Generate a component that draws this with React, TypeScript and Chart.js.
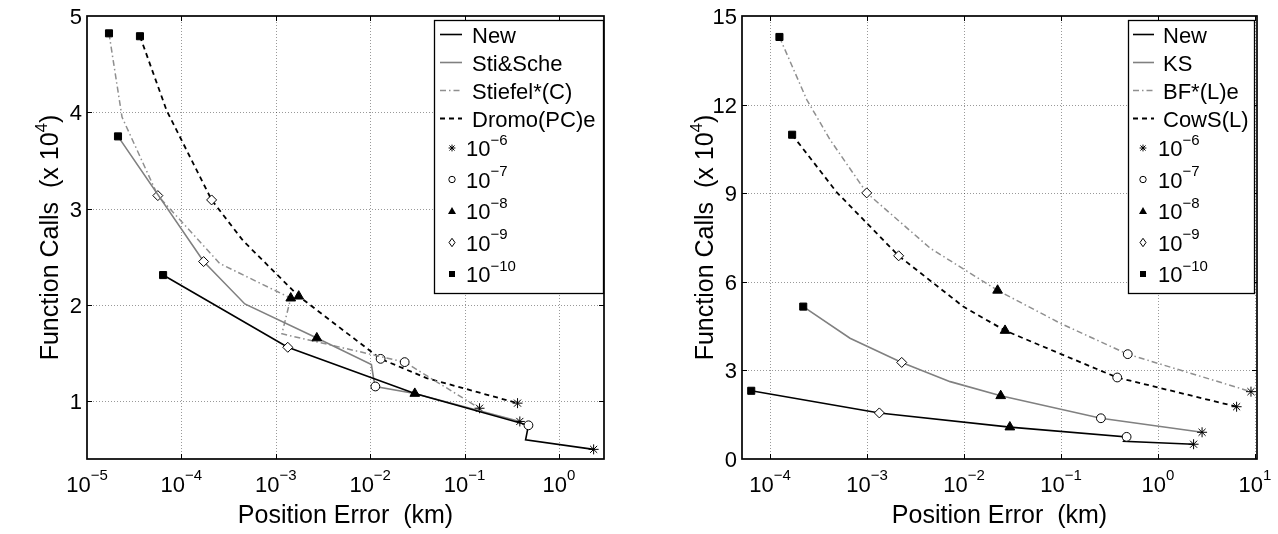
import React, { useEffect, useRef } from 'react';
import { Chart, registerables } from 'chart.js';

Chart.register(...registerables);

const FONT = '"Liberation Sans", Arial, Helvetica, sans-serif';

// ---------------- Left panel data ----------------
const leftXTickExps = [-5, -4, -3, -2, -1, 0];
const leftYTicks = [1, 2, 3, 4, 5];

const newErr = [6.4e-5, 1.34e-3, 0.0297, 0.475, 0.443, 2.33];
const newCalls = [2.31, 1.56, 1.08, 0.75, 0.6, 0.5];
const newTol = [-10, -9, -8, -7, null, -6];

const stiScheErr = [2.13e-5, 1.72e-4, 4.7e-4, 2.72e-3, 0.0103, 0.0109, 0.01135, 0.0296, 0.385];
const stiScheCalls = [3.75, 2.45, 2.01, 1.656, 1.38, 1.23, 1.153, 1.08, 0.79];
const stiScheTol = [-10, -9, null, -8, null, null, -7, null, -6];

const stiefelErr = [1.71e-5, 2.35e-5, 5.63e-5, 2.55e-4, 1.44e-3, 1.16e-3, 0.0232, 0.144];
const stiefelCalls = [4.82, 3.95, 3.135, 2.43, 2.07, 1.7, 1.406, 0.927];
const stiefelTol = [-10, null, -9, null, -8, null, -7, -6];

const dromoErr = [3.64e-5, 6.97e-5, 2.09e-4, 4.5e-4, 1.75e-3, 0.0129, 0.0396, 0.364];
const dromoCalls = [4.79, 4.02, 3.09, 2.667, 2.09, 1.44, 1.24, 0.98];
const dromoTol = [-10, null, -9, null, -8, -7, null, -6];

// ---------------- Right panel data ----------------
const rightXTickExps = [-4, -3, -2, -1, 0, 1];
const rightYTicks = [0, 3, 6, 9, 12, 15];

const ksErr = [2.2e-4, 6.68e-4, 2.28e-3, 7.2e-3, 0.0239, 0.258, 2.85];
const ksCalls = [5.16, 4.09, 3.27, 2.62, 2.14, 1.38, 0.905];
const ksTol = [-10, null, -9, null, -8, -7, -6];

const bfErr = [1.25e-4, 2.39e-4, 4.16e-4, 9.93e-4, 4.47e-3, 0.0222, 0.0977, 0.488, 9.1];
const bfCalls = [14.29, 12.17, 10.81, 9.01, 7.14, 5.71, 4.6, 3.55, 2.28];
const bfTol = [-10, null, null, -9, null, -8, null, -7, -6];

const cowsErr = [1.69e-4, 4.88e-4, 2.12e-3, 9.84e-3, 0.0265, 0.1146, 0.38, 6.47];
const cowsCalls = [10.98, 9.03, 6.88, 5.16, 4.35, 3.47, 2.76, 1.77];
const cowsTol = [-10, null, -9, null, -8, null, -7, -6];

const legendTolExps = [-6, -7, -8, -9, -10];

const BLACK = '#000000';
const GRAY = '#808080';
const LIGHTGRAY = '#8f8f8f';
const DASH = [5, 4];
const DASHDOT = [6, 3, 1.5, 3];

type Series = {
  label: string;
  err: number[];
  calls: number[];
  tol: (number | null)[];
  color: string;
  width: number;
  dash: number[];
};

const leftSeries: Series[] = [
  { label: 'New', err: newErr, calls: newCalls, tol: newTol, color: BLACK, width: 1.6, dash: [] },
  { label: 'Sti&Sche', err: stiScheErr, calls: stiScheCalls, tol: stiScheTol, color: GRAY, width: 1.6, dash: [] },
  { label: 'Stiefel*(C)', err: stiefelErr, calls: stiefelCalls, tol: stiefelTol, color: LIGHTGRAY, width: 1.5, dash: DASHDOT },
  { label: 'Dromo(PC)e', err: dromoErr, calls: dromoCalls, tol: dromoTol, color: BLACK, width: 1.8, dash: DASH },
];

const rightSeries: Series[] = [
  { label: 'New', err: newErr, calls: newCalls, tol: newTol, color: BLACK, width: 1.6, dash: [] },
  { label: 'KS', err: ksErr, calls: ksCalls, tol: ksTol, color: GRAY, width: 1.6, dash: [] },
  { label: 'BF*(L)e', err: bfErr, calls: bfCalls, tol: bfTol, color: LIGHTGRAY, width: 1.5, dash: DASHDOT },
  { label: 'CowS(L)', err: cowsErr, calls: cowsCalls, tol: cowsTol, color: BLACK, width: 1.8, dash: DASH },
];

function styleFor(t: number | null): any {
  if (t === -6) return 'star';
  if (t === -7) return 'circle';
  if (t === -8) return 'triangle';
  if (t === -9) return 'rectRot';
  if (t === -10) return 'rect';
  return 'circle';
}
function radiusFor(t: number | null): number {
  if (t === -6) return 5;
  if (t === -7) return 4.4;
  if (t === -8) return 5.6;
  if (t === -9) return 5;
  if (t === -10) return 5;
  return 0;
}

function makeDataset(s: Series) {
  return {
    label: s.label,
    data: s.err.map((x, i) => ({ x, y: s.calls[i] })),
    borderColor: s.color,
    borderWidth: s.width,
    borderDash: s.dash,
    fill: false,
    tension: 0,
    pointStyle: s.tol.map(styleFor),
    pointRadius: s.tol.map(radiusFor),
    pointHoverRadius: s.tol.map(radiusFor),
    pointBackgroundColor: s.tol.map((t) => (t === -7 || t === -9 ? '#ffffff' : '#000000')),
    pointBorderColor: '#000000',
    pointBorderWidth: 1,
    clip: false,
  };
}

function drawPow(ctx: CanvasRenderingContext2D, base: string, exp: string, x: number, baseline: number, mainSize: number, supSize: number, rise: number, align: 'center' | 'left') {
  ctx.font = `${mainSize}px ${FONT}`;
  const w1 = ctx.measureText(base).width;
  ctx.font = `${supSize}px ${FONT}`;
  const w2 = ctx.measureText(exp).width;
  const x0 = align === 'center' ? x - (w1 + w2) / 2 : x;
  ctx.textAlign = 'left';
  ctx.textBaseline = 'alphabetic';
  ctx.font = `${mainSize}px ${FONT}`;
  ctx.fillText(base, x0, baseline);
  ctx.font = `${supSize}px ${FONT}`;
  ctx.fillText(exp, x0 + w1, baseline - rise);
}

function drawLegendMarker(ctx: CanvasRenderingContext2D, t: number, x: number, y: number) {
  ctx.save();
  ctx.setLineDash([]);
  ctx.lineWidth = 1;
  ctx.strokeStyle = '#000';
  ctx.fillStyle = '#000';
  ctx.beginPath();
  if (t === -6) {
    const r = 3.4;
    ctx.moveTo(x - r, y); ctx.lineTo(x + r, y);
    ctx.moveTo(x, y - r); ctx.lineTo(x, y + r);
    const d = r * 0.75;
    ctx.moveTo(x - d, y - d); ctx.lineTo(x + d, y + d);
    ctx.moveTo(x - d, y + d); ctx.lineTo(x + d, y - d);
    ctx.stroke();
  } else if (t === -7) {
    ctx.arc(x, y, 3.2, 0, Math.PI * 2);
    ctx.fillStyle = '#fff';
    ctx.fill();
    ctx.stroke();
  } else if (t === -8) {
    ctx.moveTo(x, y - 4);
    ctx.lineTo(x + 4, y + 3);
    ctx.lineTo(x - 4, y + 3);
    ctx.closePath();
    ctx.fill();
  } else if (t === -9) {
    ctx.moveTo(x, y - 4.2);
    ctx.lineTo(x + 3, y);
    ctx.lineTo(x, y + 4.2);
    ctx.lineTo(x - 3, y);
    ctx.closePath();
    ctx.fillStyle = '#fff';
    ctx.fill();
    ctx.stroke();
  } else {
    ctx.rect(x - 3, y - 3, 6, 6);
    ctx.fill();
  }
  ctx.restore();
}

type PanelCfg = {
  xTickExps: number[];
  yTicks: number[];
  series: Series[];
  legend: { left: number; right: number; top: number; bottom: number; lineX0: number; lineX1: number; textX: number; markerX: number; powX: number };
  yTitleX: number;
  xTitleY: number;
};

function panelPlugin(cfg: PanelCfg) {
  return {
    id: 'panelDecor',
    beforeDatasetsDraw(chart: any) {
      const { ctx, chartArea: a, scales } = chart;
      const xs = scales.x;
      const ys = scales.y;
      ctx.save();
      ctx.strokeStyle = 'rgba(0,0,0,0.4)';
      ctx.lineWidth = 1;
      ctx.setLineDash([1, 2]);
      for (const e of cfg.xTickExps) {
        const px = Math.round(xs.getPixelForValue(Math.pow(10, e))) + 0.5;
        if (px <= a.left + 2 || px >= a.right - 1) continue;
        ctx.beginPath();
        ctx.moveTo(px, a.top);
        ctx.lineTo(px, a.bottom);
        ctx.stroke();
      }
      for (const v of cfg.yTicks) {
        const py = Math.round(ys.getPixelForValue(v)) + 0.5;
        if (py <= a.top + 2 || py >= a.bottom - 2) continue;
        ctx.beginPath();
        ctx.moveTo(a.left, py);
        ctx.lineTo(a.right, py);
        ctx.stroke();
      }
      ctx.restore();
    },
    afterDatasetsDraw(chart: any) {
      const { ctx, chartArea: a, scales } = chart;
      const xs = scales.x;
      const ys = scales.y;
      ctx.save();
      ctx.setLineDash([]);
      ctx.strokeStyle = '#000';
      // inward ticks
      ctx.lineWidth = 1;
      const TL = 5;
      for (const e of cfg.xTickExps) {
        const px = Math.round(xs.getPixelForValue(Math.pow(10, e))) + 0.5;
        if (px <= a.left + 2 || px >= a.right - 1) continue;
        ctx.beginPath();
        ctx.moveTo(px, a.bottom); ctx.lineTo(px, a.bottom - TL);
        ctx.moveTo(px, a.top); ctx.lineTo(px, a.top + TL);
        ctx.stroke();
      }
      for (const v of cfg.yTicks) {
        const py = Math.round(ys.getPixelForValue(v)) + 0.5;
        if (py <= a.top + 2 || py >= a.bottom - 2) continue;
        ctx.beginPath();
        ctx.moveTo(a.left, py); ctx.lineTo(a.left + TL, py);
        ctx.moveTo(a.right, py); ctx.lineTo(a.right - TL, py);
        ctx.stroke();
      }
      // axes box
      ctx.lineWidth = 1.7;
      ctx.strokeRect(a.left, a.top, a.right - a.left, a.bottom - a.top);

      // tick labels
      ctx.fillStyle = '#000';
      for (const e of cfg.xTickExps) {
        const px = xs.getPixelForValue(Math.pow(10, e));
        drawPow(ctx, '10', e < 0 ? '\u2212' + Math.abs(e) : String(e), px, a.bottom + 33, 22, 15, 12, 'center');
      }
      ctx.font = `22px ${FONT}`;
      ctx.textAlign = 'right';
      ctx.textBaseline = 'alphabetic';
      for (const v of cfg.yTicks) {
        const py = ys.getPixelForValue(v);
        ctx.fillText(String(v), a.left - 5, py + 8);
      }

      // x title
      ctx.font = `25px ${FONT}`;
      ctx.textAlign = 'center';
      ctx.fillText('Position Error  (km)', (a.left + a.right) / 2, cfg.xTitleY);

      // y title (rotated, with superscript)
      ctx.save();
      const cy = (a.top + a.bottom) / 2;
      ctx.translate(cfg.yTitleX, cy);
      ctx.rotate(-Math.PI / 2);
      const p1 = 'Function Calls  (x 10';
      const p2 = '4';
      const p3 = ')';
      ctx.font = `25px ${FONT}`;
      const w1 = ctx.measureText(p1).width;
      const w3 = ctx.measureText(p3).width;
      ctx.font = `17px ${FONT}`;
      const w2 = ctx.measureText(p2).width;
      const x0 = -(w1 + w2 + w3) / 2;
      ctx.textAlign = 'left';
      ctx.font = `25px ${FONT}`;
      ctx.fillText(p1, x0, 0);
      ctx.font = `17px ${FONT}`;
      ctx.fillText(p2, x0 + w1, -11);
      ctx.font = `25px ${FONT}`;
      ctx.fillText(p3, x0 + w1 + w2, 0);
      ctx.restore();

      // legend
      const L = cfg.legend;
      ctx.fillStyle = '#fff';
      ctx.fillRect(L.left, L.top, L.right - L.left, L.bottom - L.top);
      ctx.lineWidth = 1.3;
      ctx.strokeStyle = '#000';
      ctx.strokeRect(L.left + 0.5, L.top + 0.5, L.right - L.left, L.bottom - L.top);
      const lineRows = [34.5, 62.5, 90.5, 118.5];
      cfg.series.forEach((s, i) => {
        const y = lineRows[i];
        ctx.save();
        ctx.strokeStyle = s.color;
        ctx.lineWidth = s.width;
        ctx.setLineDash(s.dash);
        ctx.beginPath();
        ctx.moveTo(L.lineX0, y);
        ctx.lineTo(L.lineX1, y);
        ctx.stroke();
        ctx.restore();
        ctx.fillStyle = '#000';
        ctx.font = `22px ${FONT}`;
        ctx.textAlign = 'left';
        ctx.textBaseline = 'alphabetic';
        ctx.fillText(s.label, L.textX, y + 8);
      });
      legendTolExps.forEach((t, i) => {
        const y = 148 + 31.5 * i;
        drawLegendMarker(ctx, t, L.markerX, y);
        ctx.fillStyle = '#000';
        drawPow(ctx, '10', '\u2212' + Math.abs(t), L.powX, y + 8, 22, 15, 11.5, 'left');
      });
      ctx.restore();
    },
  };
}

function Panel(props: { width: number; left: number; xMin: number; xMax: number; yMin: number; yMax: number; areaLeft: number; areaRight: number; cfg: PanelCfg }) {
  const ref = useRef<HTMLCanvasElement | null>(null);
  useEffect(() => {
    if (!ref.current) return;
    const { width, xMin, xMax, yMin, yMax, areaLeft, areaRight, cfg } = props;
    const chart = new Chart(ref.current, {
      type: 'line',
      data: { datasets: cfg.series.map(makeDataset) as any },
      options: {
        responsive: false,
        animation: false,
        devicePixelRatio: 1,
        events: [],
        layout: { padding: { left: 0, right: width - areaRight, top: 16, bottom: 0 } },
        plugins: { legend: { display: false }, tooltip: { enabled: false }, title: { display: false } },
        scales: {
          x: {
            type: 'logarithmic',
            min: xMin,
            max: xMax,
            grid: { display: false },
            border: { display: false },
            ticks: { display: false },
            afterFit: (s: any) => { s.height = 534 - 459; },
          },
          y: {
            type: 'linear',
            min: yMin,
            max: yMax,
            grid: { display: false },
            border: { display: false },
            ticks: { display: false },
            afterFit: (s: any) => { s.width = areaLeft; },
          },
        },
      } as any,
      plugins: [panelPlugin(cfg)],
    });
    return () => chart.destroy();
  }, []);
  return (
    <canvas
      ref={ref}
      width={props.width}
      height={534}
      style={{ position: 'absolute', left: props.left, top: 0, width: props.width, height: 534 }}
    />
  );
}

export default function App() {
  const leftCfg: PanelCfg = {
    xTickExps: leftXTickExps,
    yTicks: leftYTicks,
    series: leftSeries,
    legend: { left: 434, right: 603, top: 20, bottom: 293, lineX0: 440, lineX1: 462, textX: 472, markerX: 452, powX: 466 },
    yTitleX: 58,
    xTitleY: 523,
  };
  const rightCfg: PanelCfg = {
    xTickExps: rightXTickExps,
    yTicks: rightYTicks,
    series: rightSeries,
    legend: { left: 1128 - 640, right: 1254 - 640, top: 20, bottom: 293, lineX0: 1133 - 640, lineX1: 1154 - 640, textX: 1163 - 640, markerX: 1143 - 640, powX: 1158 - 640 },
    yTitleX: 713 - 640,
    xTitleY: 523,
  };
  return (
    <div style={{ position: 'fixed', left: 0, top: 0, width: 1278, height: 534, background: '#fff', overflow: 'hidden' }}>
      <Panel width={640} left={0} xMin={1e-5} xMax={3} yMin={0.4} yMax={5} areaLeft={87} areaRight={604} cfg={leftCfg} />
      <Panel width={638} left={640} xMin={5.14e-5} xMax={10.5} yMin={0} yMax={15} areaLeft={102} areaRight={617} cfg={rightCfg} />
    </div>
  );
}
